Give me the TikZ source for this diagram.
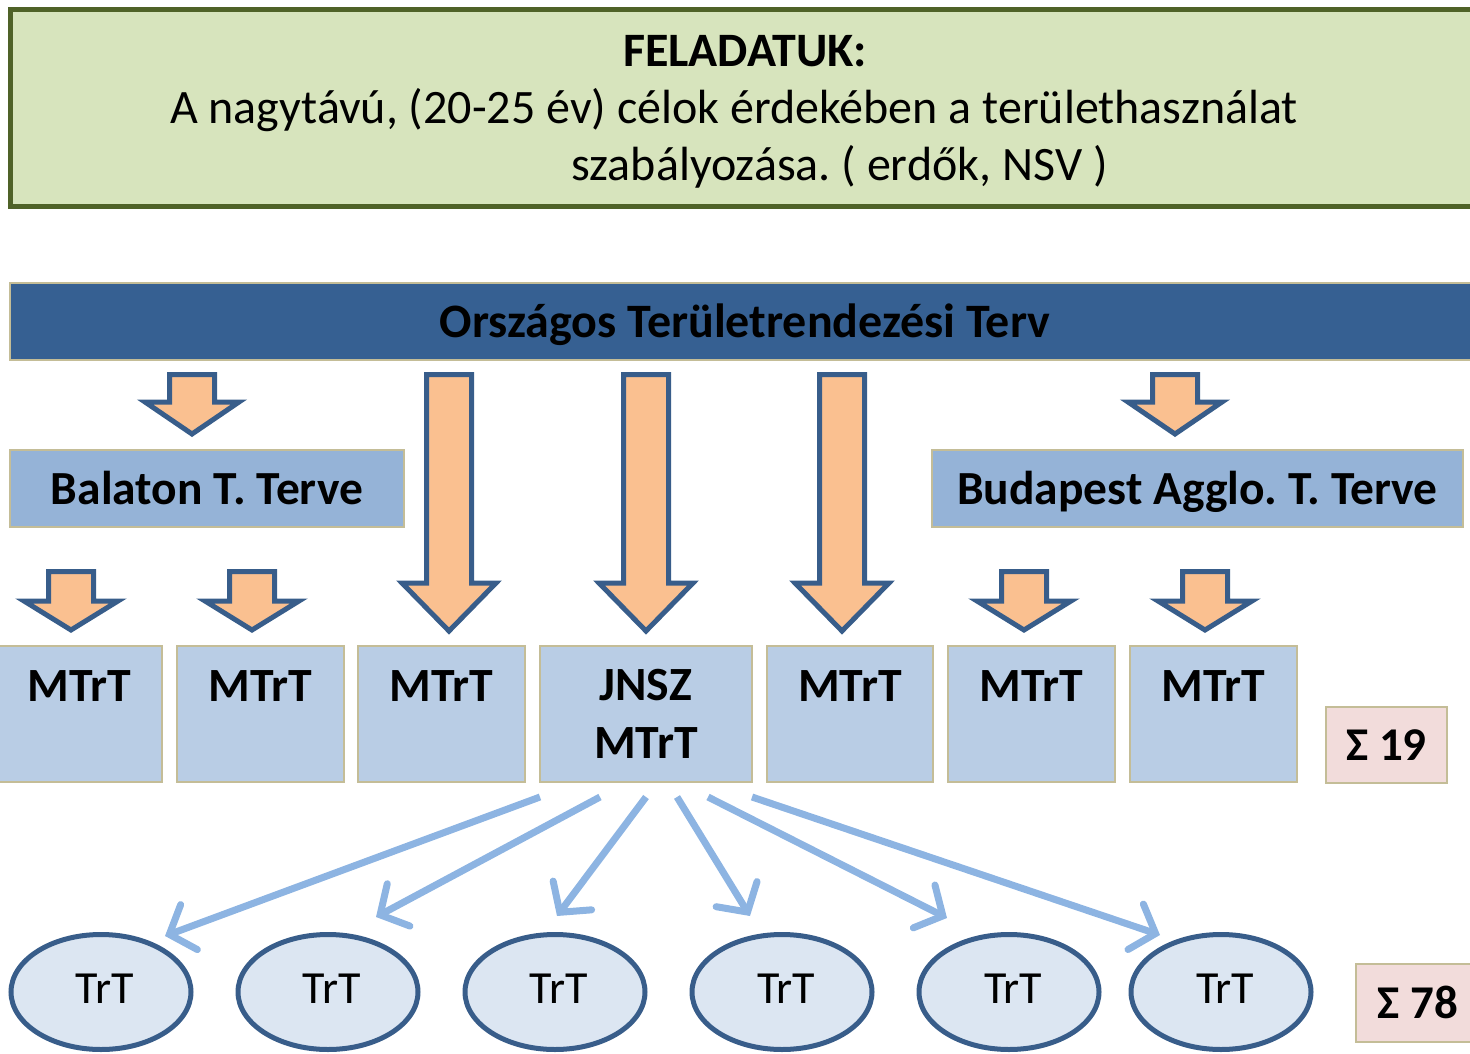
\documentclass[tikz,border=0pt]{standalone}
\usepackage{fontspec}
\setmainfont{Carlito}
\frenchspacing
\usetikzlibrary{arrows.meta,shapes.geometric}
\definecolor{greenfill}{HTML}{D7E4BD}
\definecolor{greenline}{HTML}{4F6228}
\definecolor{bannerblue}{HTML}{366092}
\definecolor{tanline}{HTML}{C4BD97}
\definecolor{midblue}{HTML}{95B3D7}
\definecolor{paleblue}{HTML}{B9CDE5}
\definecolor{pinkfill}{HTML}{F2DCDB}
\definecolor{ellfill}{HTML}{DCE6F2}
\definecolor{navy}{HTML}{385D8A}
\definecolor{orangefill}{HTML}{FAC090}
\definecolor{lightarrow}{HTML}{8DB4E2}
\newcommand\blockarrow[4]{% cx, top, base, tip
  \draw[blockarr] (#1-22.5,#2) -- (#1+22.5,#2) -- (#1+22.5,#3) -- (#1+47,#3) -- (#1,#4)
    -- (#1-47,#3) -- (#1-22.5,#3) -- cycle;}
\tikzset{
  topbox/.style={draw=greenline, line width=5pt, fill=greenfill, rectangle,
    inner sep=0pt},
  toptext/.style={inner sep=0pt, align=center, font=\fontsize{48}{57}\selectfont},
  bannerbox/.style={draw=tanline, line width=2pt, fill=bannerblue, rectangle,
    inner sep=0pt, text height=54.5pt, text depth=22.5pt,
    font=\fontsize{48}{56}\selectfont\bfseries},
  planbox/.style={draw=tanline, line width=2pt, fill=midblue, rectangle,
    inner sep=0pt, text height=54.5pt, text depth=22.5pt,
    font=\fontsize{47.5}{56}\selectfont\bfseries},
  mbox/.style={draw=tanline, line width=2pt, fill=paleblue, rectangle,
    inner sep=0pt, minimum height=136pt, text height=55.5pt, text depth=80.5pt,
    font=\fontsize{47.7}{58}\selectfont\bfseries},
  jbox/.style={draw=tanline, line width=2pt, fill=paleblue, rectangle,
    inner sep=0pt, minimum height=136pt, align=center,
    font=\fontsize{47.7}{58}\selectfont\bfseries},
  sumbox/.style={draw=tanline, line width=2pt, fill=pinkfill, rectangle,
    inner sep=0pt, font=\fontsize{47}{56}\selectfont\bfseries},
  trt/.style={draw=navy, line width=5pt, fill=ellfill, ellipse, inner sep=0pt,
    minimum width=180pt, minimum height=115pt, text height=40pt, text depth=18pt,
    font=\fontsize{46}{54}\selectfont},
  blockarr/.style={draw=navy, line width=5pt, fill=orangefill, line join=miter},
  thinarr/.style={draw=lightarrow, line width=7pt,
    -{Straight Barb[length=21pt,width=48pt,line cap=round]}},
}
\begin{document}
\begin{tikzpicture}[x=1pt,y=-1pt]
\useasboundingbox (0,0) rectangle (1470,1054);
% task box
\node[topbox, minimum width=1470pt, minimum height=196pt] (task) at (745,108) {};
\node[toptext] (tasktext) at (745,112)
  {\textbf{FELADATUK:}\\
   A nagytávú, (20-25 év) célok érdekében a területhasználat\hspace*{22pt}\mbox{}\\
   \hspace*{189pt}szabályozása. ( erdők, NSV )};
% banner
\node[bannerbox, minimum width=1470pt, minimum height=77pt] (otrt) at (745,321.5)
  {Országos Területrendezési Terv};
% regional plans
\node[planbox, minimum width=394pt, minimum height=77pt] (balaton) at (207,488.5)
  {Balaton T. Terve};
\node[planbox, minimum width=531pt, minimum height=77pt] (budapest) at (1197.5,488.5)
  {Budapest Agglo. T. Terve};
% block arrows
\blockarrow{192}{374.5}{402}{434}
\blockarrow{1175}{374.5}{402}{434}
\blockarrow{449}{374.5}{583}{631}
\blockarrow{646}{374.5}{583}{631}
\blockarrow{842}{374.5}{583}{631}
\blockarrow{71}{571.5}{601}{630}
\blockarrow{252}{571.5}{601}{630}
\blockarrow{1024}{571.5}{601}{630}
\blockarrow{1205}{571.5}{601}{630}
% county plans
\node[mbox, minimum width=165pt] (m1) at (79.5,714) {MTrT};
\node[mbox, minimum width=167pt] (m2) at (260.5,714) {MTrT};
\node[mbox, minimum width=167pt] (m3) at (441.5,714) {MTrT};
\node[jbox, minimum width=212pt] (jnsz) at (646,714) {JNSZ\\MTrT};
\node[mbox, minimum width=166pt] (m5) at (850,714) {MTrT};
\node[mbox, minimum width=167pt] (m6) at (1031.5,714) {MTrT};
\node[mbox, minimum width=167pt] (m7) at (1213.5,714) {MTrT};
\node[sumbox, minimum width=121pt, minimum height=76pt, text height=53.5pt, text depth=22.5pt] (sum19) at (1386.5,745) {Σ 19};
% settlement plans
\node[trt] (t1) at (101,992) {\hspace*{8pt}TrT};
\node[trt] (t2) at (328,992) {\hspace*{8pt}TrT};
\node[trt] (t3) at (555,992) {\hspace*{8pt}TrT};
\node[trt] (t4) at (782,992) {\hspace*{8pt}TrT};
\node[trt] (t5) at (1009,992) {\hspace*{8pt}TrT};
\node[trt] (t6) at (1221,992) {\hspace*{8pt}TrT};
\node[sumbox, minimum width=124pt, minimum height=78pt, text height=54.5pt, text depth=23.5pt] (sum78) at (1418,1003) {Σ 78};
% light arrows
\coordinate (s1) at (540,797);
\coordinate (s2) at (600,797);
\coordinate (s3) at (646,797);
\coordinate (s4) at (677,797);
\coordinate (s5) at (708,797);
\coordinate (s6) at (752,797);
\coordinate (e1) at (165,936);
\coordinate (e2) at (376,917);
\coordinate (e3) at (557,916);
\coordinate (e4) at (750,916);
\coordinate (e5) at (947,918);
\coordinate (e6) at (1160,935);
\foreach \i in {1,...,6} {\draw[thinarr] (s\i) -- (e\i);}
\end{tikzpicture}
\end{document}
